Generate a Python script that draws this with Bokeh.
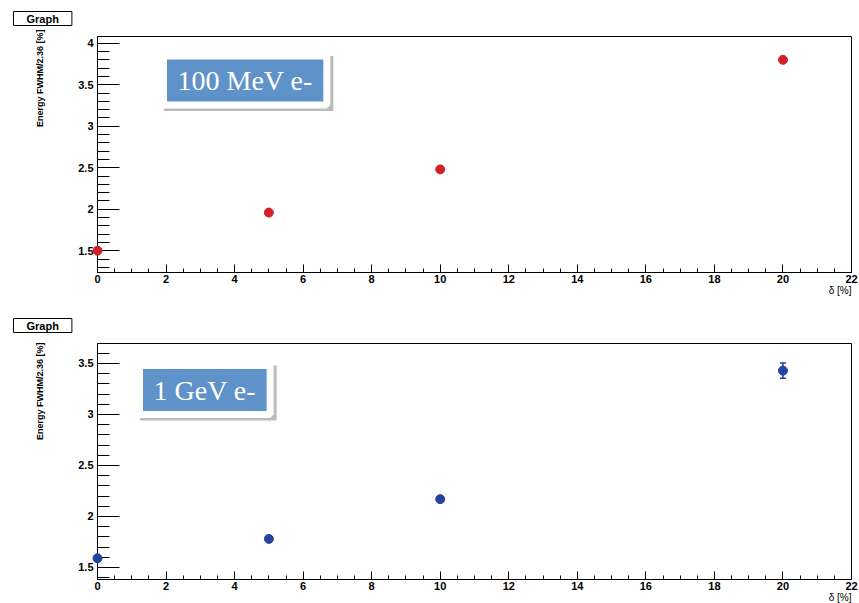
from bokeh.plotting import figure
from bokeh.layouts import column
from bokeh.models import (ColumnDataSource, FixedTicker, Label, Range1d,
                          Whisker, TeeHead, Title)
from bokeh.embed import file_html
from bokeh.resources import INLINE

# ---- data ----
delta = [0, 5, 10, 20]
res_100mev = [1.50, 1.96, 2.48, 3.80]
err_100mev = [0.012, 0.015, 0.015, 0.02]
res_1gev = [1.59, 1.78, 2.17, 3.43]
err_1gev = [0.015, 0.015, 0.018, 0.075]

x_major = [0, 2, 4, 6, 8, 10, 12, 14, 16, 18, 20, 22]
x_minor = [i * 0.5 for i in range(0, 45)]
y_major_top = [1.5, 2, 2.5, 3, 3.5, 4]
y_major_bot = [1.5, 2, 2.5, 3, 3.5]
y_minor = [round(1.0 + i * 0.1, 2) for i in range(0, 35)]

ylabel = "Energy FWHM/2.36 [%]"
xlabel = "δ [%]"
title = "Graph"
tags = ["100 MeV e-", "1 GeV e-"]

RED = "#d0202a"
BLUE = "#2443a0"
BOXBLUE = "#5f92c8"


def panel(yvals, yerr, color, yrange, ymajor, tag, height, bottom_border,
          tag_dx, tag_dy, ytitle_offset):
    p = figure(width=859, height=height, output_backend="svg",
               toolbar_location=None,
               x_range=Range1d(0, 22), y_range=Range1d(*yrange),
               min_border_left=97, min_border_right=8,
               min_border_top=36, min_border_bottom=bottom_border)
    p.grid.visible = False
    p.outline_line_color = "black"
    p.outline_line_width = 1
    p.background_fill_color = "white"
    p.border_fill_color = "white"

    xa = p.xaxis[0]
    xa.ticker = FixedTicker(ticks=x_major, minor_ticks=x_minor)
    xa.major_tick_in = 8
    xa.major_tick_out = 0
    xa.minor_tick_in = 4
    xa.minor_tick_out = 0
    xa.major_label_standoff = 2
    ya = p.yaxis[0]
    ya.ticker = FixedTicker(ticks=ymajor, minor_ticks=y_minor)
    ya.major_tick_in = 22
    ya.major_tick_out = 0
    ya.minor_tick_in = 12
    ya.minor_tick_out = 0
    ya.major_label_standoff = 4
    for a in (xa, ya):
        a.axis_line_color = "black"
        a.major_tick_line_color = "black"
        a.minor_tick_line_color = "black"
        a.major_label_text_font = "Liberation Sans"
        a.major_label_text_font_style = "bold"
        a.major_label_text_font_size = "11px"
        a.major_label_text_color = "black"

    lo = [v - e for v, e in zip(yvals, yerr)]
    hi = [v + e for v, e in zip(yvals, yerr)]
    src = ColumnDataSource(dict(x=delta, y=yvals, lo=lo, hi=hi))
    p.add_layout(Whisker(base="x", lower="lo", upper="hi", source=src,
                         line_color=color, line_width=1.5,
                         lower_head=TeeHead(size=6, line_color=color, line_width=1.5),
                         upper_head=TeeHead(size=6, line_color=color, line_width=1.5)))
    p.scatter("x", "y", source=src, size=9, color=color, level="overlay")

    y0, y1 = yrange
    # "Graph" title box (above, left)
    p.add_layout(Title(text=title, align="left", offset=-84,
                       vertical_align="top",
                       text_font="Liberation Sans", text_font_style="bold",
                       text_font_size="11px", text_color="black",
                       background_fill_color="white",
                       border_line_color="black", border_line_width=1,
                       padding=(13, 1), standoff=18), "above")
    # y axis title, aligned to the top of the axis
    p.add_layout(Title(text=ylabel, align="right", offset=ytitle_offset,
                       text_font="Liberation Sans", text_font_style="bold",
                       text_font_size="9px", text_color="black",
                       standoff=62), "left")
    # x axis title, aligned to the right end
    p.add_layout(Title(text=xlabel, align="right", offset=0,
                       text_font="Liberation Sans", text_font_size="10px",
                       text_font_style="normal", text_color="black",
                       standoff=-6), "below")
    # tag box: shadow then box
    p.add_layout(Label(x=0, y=y1, x_offset=tag_dx + 0.5, y_offset=tag_dy - 3,
                       text=tag, text_align="left", text_baseline="middle",
                       text_font="Liberation Serif", text_font_size="28px",
                       text_color="#b4b4b4", background_fill_color="#b4b4b4",
                       background_fill_alpha=0.9, padding=(17, 12)))
    p.add_layout(Label(x=0, y=y1, x_offset=tag_dx, y_offset=tag_dy,
                       text=tag, text_align="left", text_baseline="middle",
                       text_font="Liberation Serif", text_font_size="28px",
                       text_color="white", background_fill_color=BOXBLUE,
                       border_line_color="white", border_line_width=7,
                       padding=(14, 9)))
    return p


top = panel(res_100mev, err_100mev, RED, (1.238, 4.081), y_major_top,
            tags[0], 307, 35, 66, -44, -7)
bot = panel(res_1gev, err_1gev, BLUE, (1.382, 3.696), y_major_bot,
            tags[1], 296, 24, 42, -46.5, -1)

layout = column(top, bot, spacing=0)
open("out.html", "w").write(file_html(layout, INLINE))
